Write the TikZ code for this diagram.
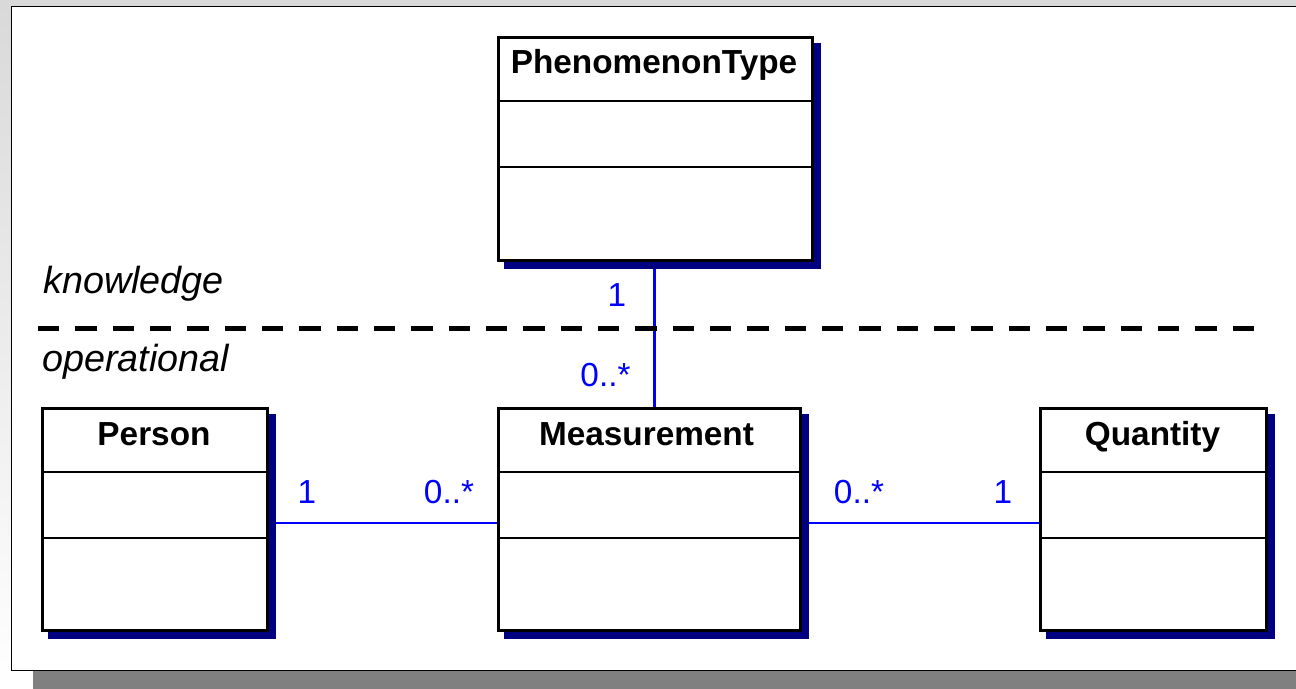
\documentclass[tikz,border=0pt]{standalone}
\usepackage{fontspec}
\setmainfont{Liberation Sans}
\pgfdeclarelayer{bg}
\pgfdeclarelayer{shd}
\pgfsetlayers{bg,shd,main}
\definecolor{shadownavy}{HTML}{000080}
\definecolor{assocblue}{HTML}{0000FF}
\definecolor{framegrey}{HTML}{808080}
\definecolor{topgrey}{HTML}{D9D9D9}
\begin{document}
\begin{tikzpicture}[x=0.75pt,y=-0.75pt,
  classbox/.style={draw=black, line width=2.4pt, fill=white, inner sep=0pt, outer sep=0pt},
  divider/.style={black, line width=1.6pt},
  boxshadow/.style={fill=shadownavy},
  classtitle/.style={font=\bfseries\fontsize{25}{30}\selectfont, anchor=base, inner sep=0pt},
  mult/.style={text=assocblue, font=\fontsize{25}{30}\selectfont, anchor=base, inner sep=0pt},
  assoc/.style={draw=assocblue, line width=1.5pt},
  assocv/.style={draw=assocblue, line width=2.25pt},
  regionlabel/.style={font=\itshape\fontsize{28.3}{33}\selectfont, anchor=base west, inner sep=0pt},
  separator/.style={black, line width=3.75pt, dash pattern=on 16.1pt off 11.9pt}
]
\useasboundingbox (0,0) rectangle (1296,689);
\begin{pgfonlayer}{bg}
  \shade[top color=topgrey, bottom color=white] (0,0) rectangle (1296,689);
  \fill[white] (11.5,6.5) rectangle (1296,670.5);
  \draw[black, line width=0.9pt] (1296,6.3) -- (11.6,6.3) -- (11.6,670.4) -- (1296,670.4);
  \fill[framegrey] (33,671) rectangle (1296,689);
\end{pgfonlayer}

% class boxes
\node[classbox, minimum width=314*0.75pt, minimum height=223*0.75pt] (pt) at (655.5,149) {};
\node[classbox, minimum width=225*0.75pt, minimum height=222*0.75pt] (pe) at (155,519.5) {};
\node[classbox, minimum width=302*0.75pt, minimum height=222*0.75pt] (ms) at (649.5,519.5) {};
\node[classbox, minimum width=226*0.75pt, minimum height=222*0.75pt] (qu) at (1153.5,519.5) {};

\begin{pgfonlayer}{shd}
  \foreach \b in {pt,pe,ms,qu}
    \fill[boxshadow] ([shift={(5.5,5.5)}]\b.north west) rectangle ([shift={(8.5,8.5)}]\b.south east);
\end{pgfonlayer}

% compartments
\draw[divider] (498.5,101) -- (812.5,101);
\draw[divider] (498.5,167) -- (812.5,167);
\draw[divider] (42.5,472) -- (267.5,472);
\draw[divider] (42.5,538) -- (267.5,538);
\draw[divider] (498.5,472) -- (800.5,472);
\draw[divider] (498.5,538) -- (800.5,538);
\draw[divider] (1040.5,472) -- (1266.5,472);
\draw[divider] (1040.5,538) -- (1266.5,538);

% titles
\node[classtitle] (ptt) at (654,73) {PhenomenonType};
\node[classtitle] (pet) at (154,445) {Person};
\node[classtitle] (mst) at (646.5,445) {Measurement};
\node[classtitle] (qut) at (1152.5,445) {Quantity};

% region separator
\coordinate (sepl) at (38,328);
\coordinate (sepr) at (1256,328);
\draw[separator] (sepl) -- (sepr);
\node[regionlabel] (know) at (43,293) {knowledge};
\node[regionlabel] (oper) at (42,371) {operational};

% associations
\begin{pgfonlayer}{bg}
  \draw[assocv] ([shift={(-1.5,0)}]pt.south) -- ([shift={(4.5,0)}]ms.north);
  \draw[assoc] ([shift={(0,3.5)}]pe.east) -- ([shift={(0,3.5)}]ms.west);
  \draw[assoc] ([shift={(0,3.5)}]ms.east) -- ([shift={(0,3.5)}]qu.west);
\end{pgfonlayer}

% multiplicities
\node[mult] (m1) at (617,306) {1};
\node[mult] (m2) at (605.5,386) {0..*};
\node[mult] (m3) at (307,503) {1};
\node[mult] (m4) at (449,503) {0..*};
\node[mult] (m5) at (859,503) {0..*};
\node[mult] (m6) at (1003,503) {1};
\end{tikzpicture}
\end{document}
